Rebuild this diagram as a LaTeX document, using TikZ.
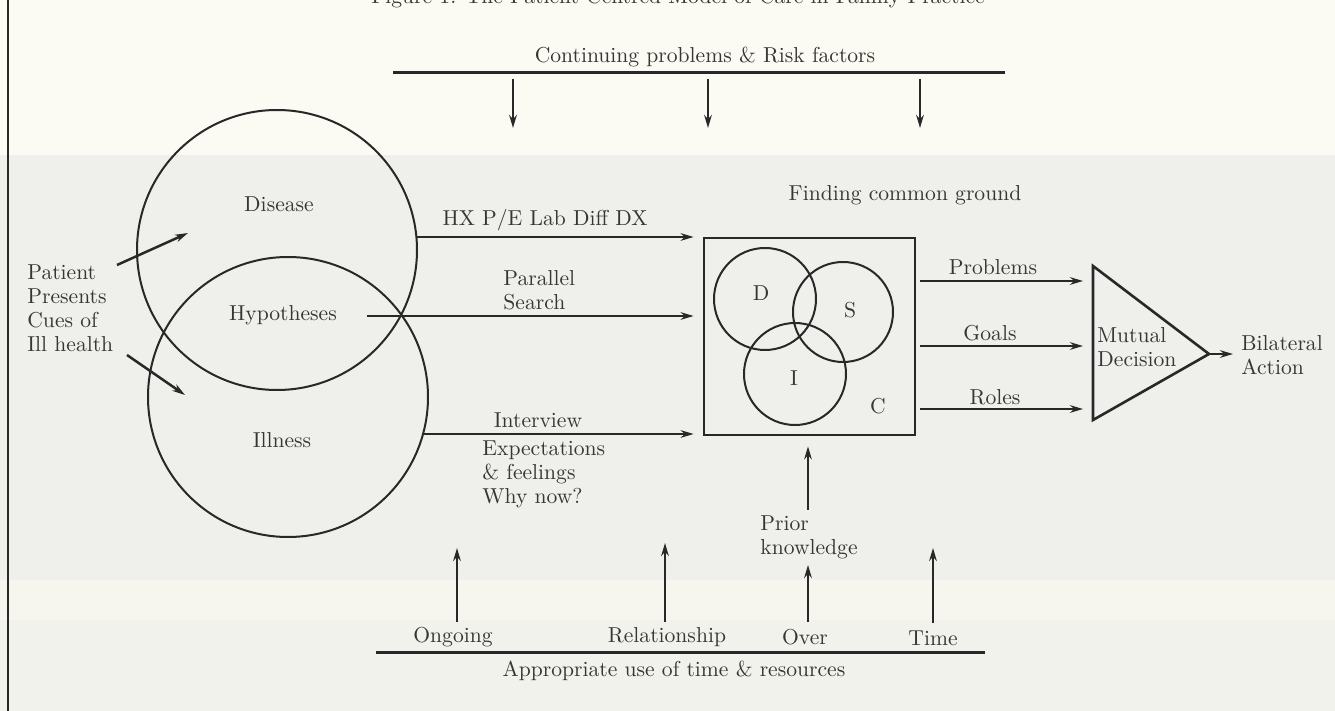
\documentclass[tikz,border=0pt]{standalone}
\usetikzlibrary{arrows.meta}
\definecolor{ink}{HTML}{282828}
\definecolor{txt}{HTML}{363636}
\definecolor{bgtop}{HTML}{FBFAF3}
\definecolor{bgmid}{HTML}{EFEFEB}
\definecolor{bgstripe}{HTML}{F6F5EE}
\definecolor{bgbot}{HTML}{F2F2ED}
\tikzset{
  lbl/.style={text=txt, inner sep=0pt},
  blk/.style={lbl, align=left},
  ring/.style={circle, draw=ink, line width=1pt, inner sep=0pt},
  arr/.style={draw=ink, line width=1.25pt, -{Stealth[length=6.5pt,width=3.8pt]}},
  rule/.style={draw=ink, line width=1.5pt},
}
\begin{document}
\begin{tikzpicture}[x=0.5pt,y=-0.5pt,font=\fontsize{10.8}{12}\selectfont]
\useasboundingbox (0,0) rectangle (1335,711);
% scanned paper background
\fill[bgtop] (0,0) rectangle (1335,155);
\fill[bgmid] (0,155) rectangle (1335,580);
\fill[bgstripe] (0,580) rectangle (1335,620);
\fill[bgbot] (0,620) rectangle (1335,711);
% left border
\coordinate (bt) at (8,0); \coordinate (bb) at (8,711);
\draw[ink, line width=0.9pt] (bt) -- (bb);
% title (cut at top, as in the scan)
\node[lbl, anchor=base] (title) at (678,4) {Figure 1. The Patient-Centred Model of Care in Family Practice};

% top rule
\node[lbl] (cont) at (705,57) {Continuing problems \& Risk factors};
\coordinate (tl) at (393,73); \coordinate (tr) at (1005,73);
\draw[rule] (tl) -- (tr);
\foreach \x/\n in {513/a,708/b,920/c}{
  \coordinate (d\n s) at (\x,79); \coordinate (d\n e) at (\x,128);
  \draw[arr] (d\n s) -- (d\n e);
}

% left circles
\node[ring, minimum size=140pt] (disease) at (277,250) {};
\node[ring, minimum size=140pt] (illness) at (288,397) {};
\node[lbl] (tdis) at (279,204) {Disease};
\node[lbl] (thyp) at (283,315) {Hypotheses};
\node[lbl] (till) at (282,440) {Illness};

\node[blk, anchor=west] (patient) at (27,308) {Patient\\Presents\\Cues of\\Ill health};
\coordinate (pa1) at (117,265); \coordinate (pa1e) at (188,233);
\coordinate (pa2) at (127,355); \coordinate (pa2e) at (185,395);
\draw[arr] (pa1) -- (pa1e);
\draw[arr] (pa2) -- (pa2e);

% common ground box
\node[lbl] (fcg) at (905,195) {Finding common ground};
\node[draw=ink, line width=1.4pt, minimum width=105.5pt, minimum height=98.5pt, inner sep=0pt] (box) at (809.5,336.5) {};
\node[ring, minimum size=51pt] (vd) at (765,299) {};
\node[ring, minimum size=50pt] (vs) at (843,312) {};
\node[ring, minimum size=51pt] (vi) at (795,374) {};
\node[lbl] (ld) at (761,293) {D};
\node[lbl] (ls) at (850,310) {S};
\node[lbl] (li) at (794,378) {I};
\node[lbl] (lc) at (878,406) {C};

% arrows into the box
\coordinate (hxs) at (416,237);
\draw[arr, shorten >=4.5pt] (hxs) -- (hxs -| box.west);
\node[lbl] (hx) at (545,220) {HX P/E Lab Diff DX};
\coordinate (pss) at (367,316);
\draw[arr, shorten >=4.5pt] (pss) -- (pss -| box.west);
\node[blk, anchor=west] (ps) at (503,290) {Parallel\\Search};
\coordinate (ivs) at (423,434);
\draw[arr, shorten >=4.5pt] (ivs) -- (ivs -| box.west);
\node[lbl] (iv) at (538,420) {Interview};
\node[blk, anchor=west] (exp) at (482,474) {Expectations\\\& feelings\\Why now?};

% triangle
\coordinate (tritop) at (1093,266);
\coordinate (tribot) at (1093,420);
\coordinate (apex) at (1209,354);
\draw[ink, line width=1.3pt, line join=miter] (tritop) -- (apex) -- (tribot) -- cycle;
\node[blk, anchor=west] (md) at (1097,347) {Mutual\\Decision};

\coordinate (yprob) at (0,281);
\coordinate (ygoal) at (0,346);
\coordinate (yrole) at (0,409);
\draw[arr, shorten <=2pt, shorten >=5pt] (box.east |- yprob) -- (tritop |- yprob);
\draw[arr, shorten <=2pt, shorten >=5pt] (box.east |- ygoal) -- (tritop |- ygoal);
\draw[arr, shorten <=2pt, shorten >=5pt] (box.east |- yrole) -- (tritop |- yrole);
\node[lbl] (lprob) at (993,267) {Problems};
\node[lbl] (lgoal) at (990,333) {Goals};
\node[lbl] (lrole) at (995,397) {Roles};

\node[blk, anchor=west] (bil) at (1241,355) {Bilateral\\Action};
\draw[arr, shorten >=4pt] (apex) -- (apex -| bil.west);

% bottom
\node[blk, anchor=west] (pk) at (760,537) {Prior\\knowledge};
\coordinate (pks) at (808,510);
\draw[arr, shorten >=5pt] (pks) -- (pks |- box.south);

\coordinate (bl) at (376,652); \coordinate (br) at (985,652);
\draw[rule] (bl) -- (br);
\node[lbl] (app) at (674,671) {Appropriate use of time \& resources};

\node[lbl] (og) at (453,637) {Ongoing};
\node[lbl] (rel) at (667,637) {Relationship};
\node[lbl] (ov) at (805,637) {Over};
\node[lbl] (tm) at (933,638) {Time};
\coordinate (ogs) at (457,622); \coordinate (oge) at (457,548);
\coordinate (rls) at (665,622); \coordinate (rle) at (665,543);
\coordinate (ovs) at (808,622); \coordinate (ove) at (808,565);
\coordinate (tms) at (933,623); \coordinate (tme) at (933,548);
\draw[arr] (ogs) -- (oge);
\draw[arr] (rls) -- (rle);
\draw[arr] (ovs) -- (ove);
\draw[arr] (tms) -- (tme);
\end{tikzpicture}
\end{document}
